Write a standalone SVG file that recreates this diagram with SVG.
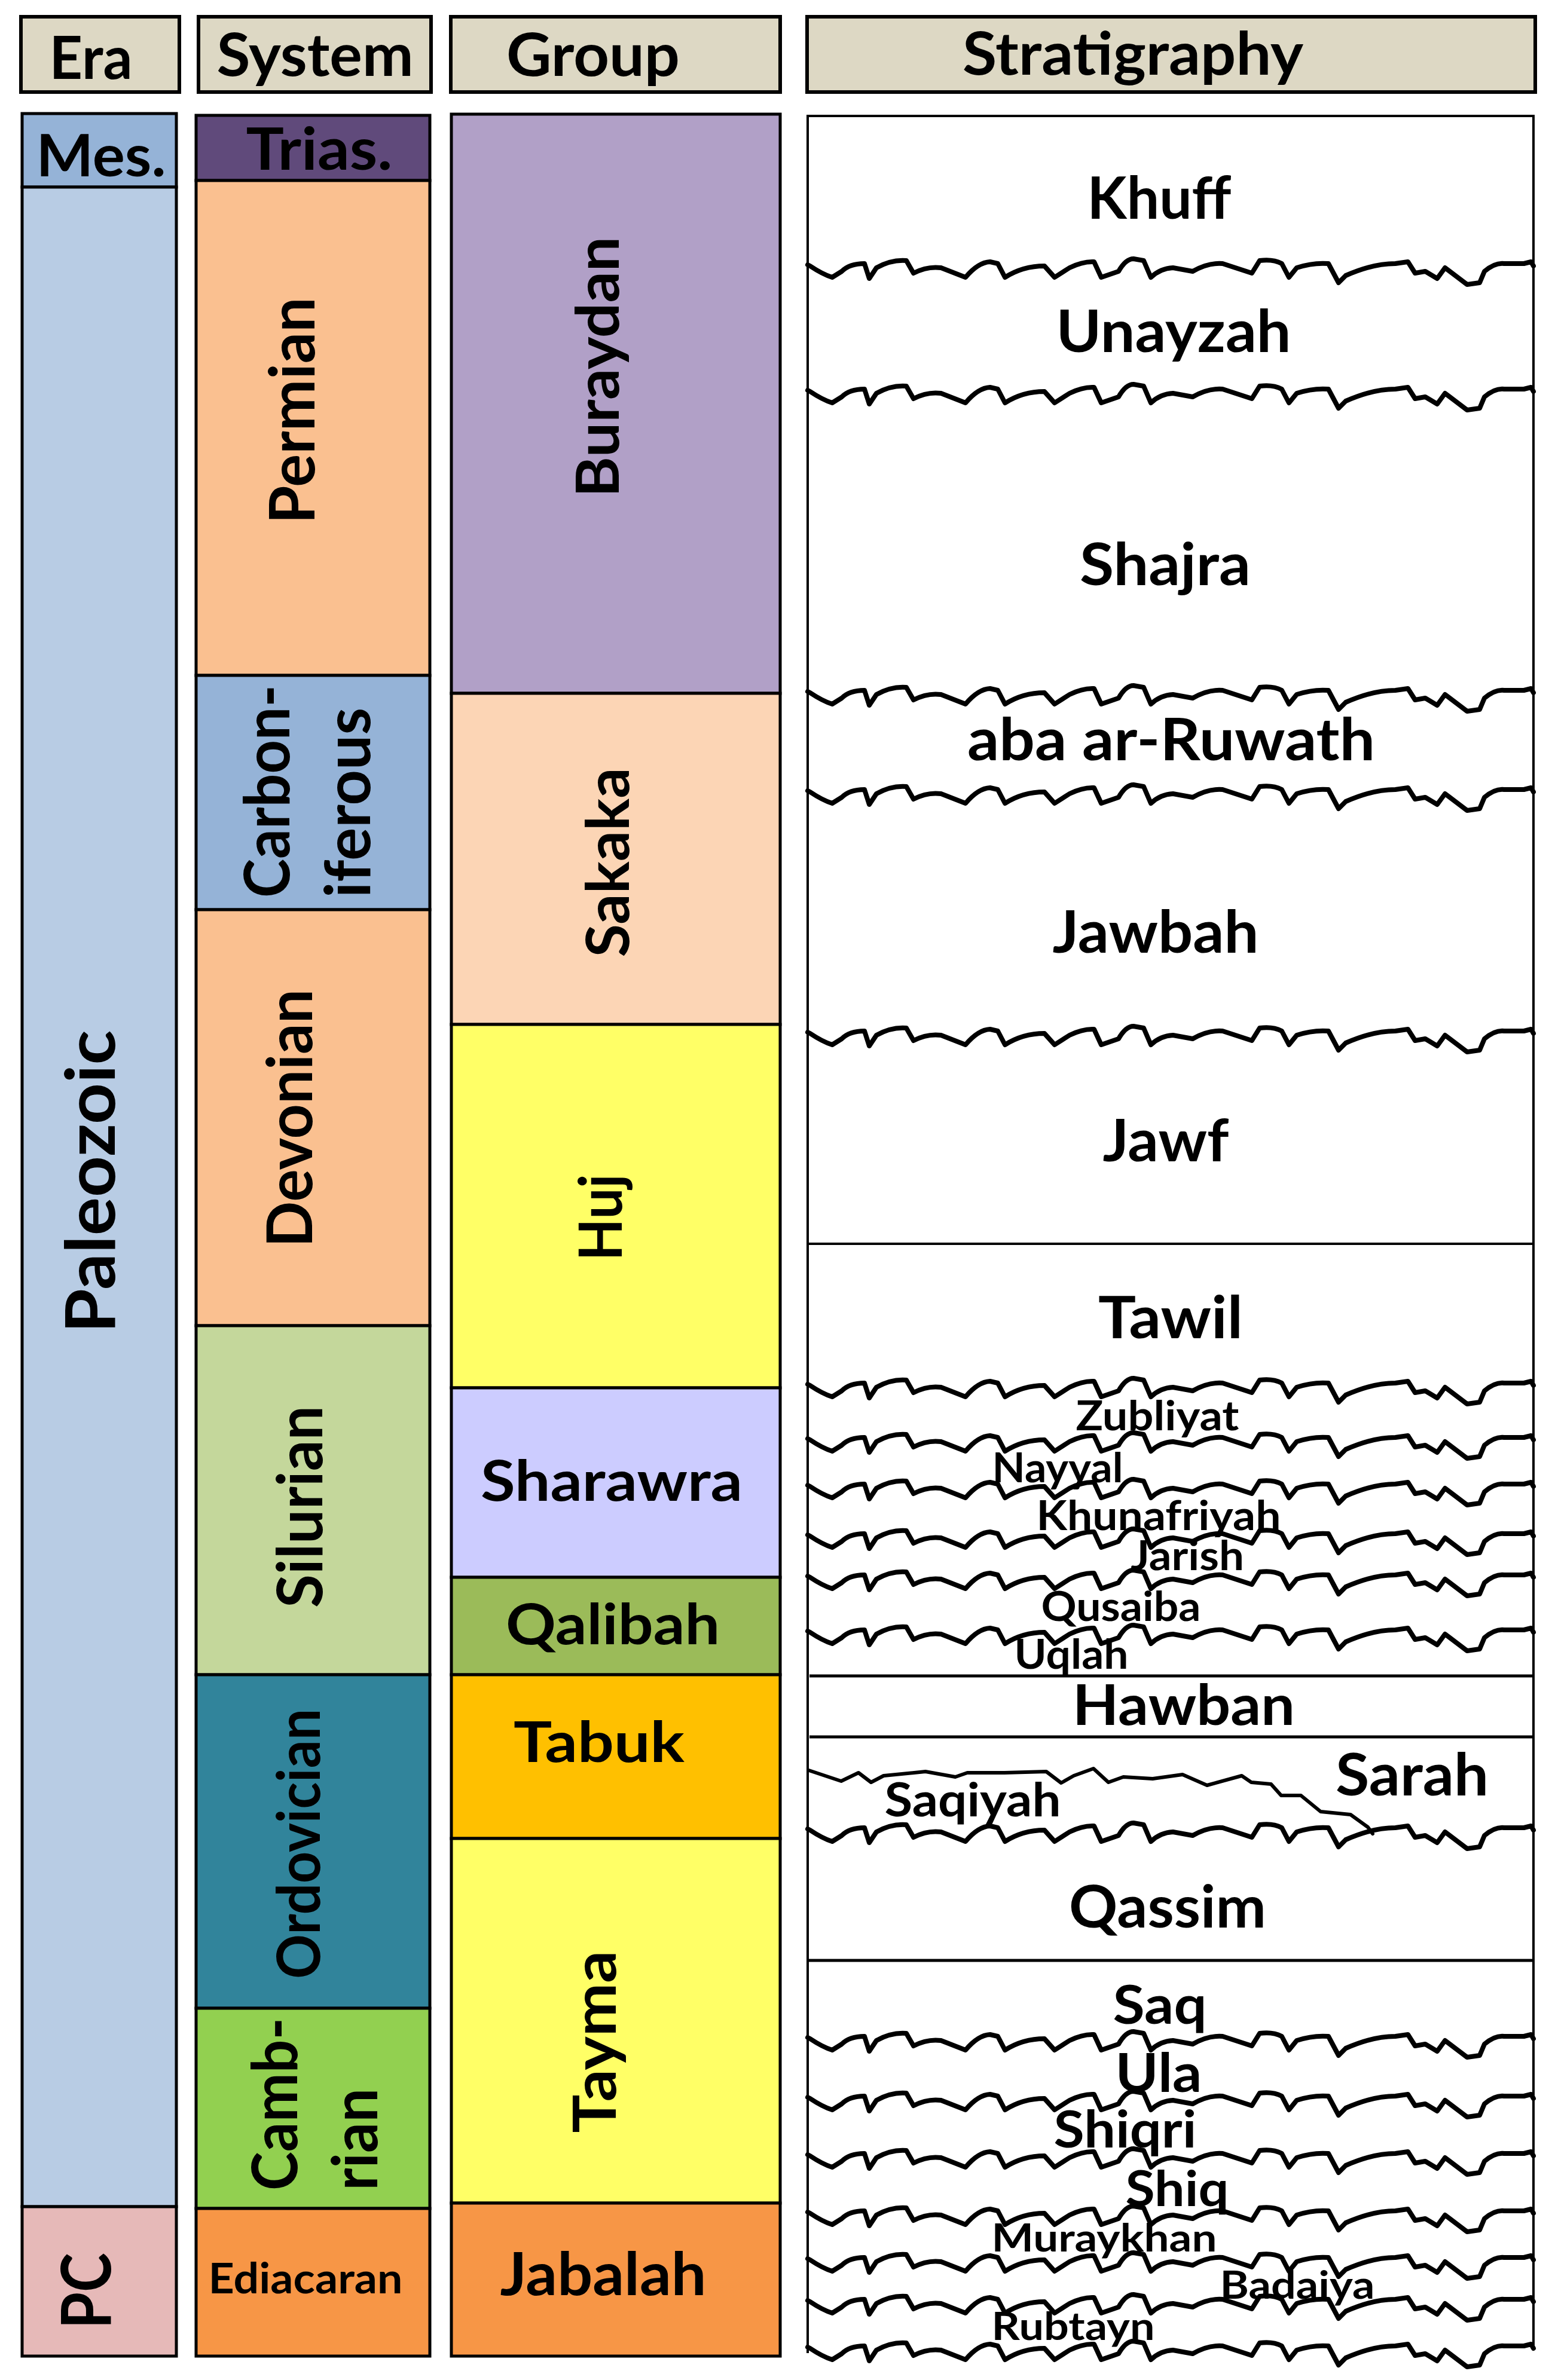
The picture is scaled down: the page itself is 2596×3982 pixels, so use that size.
<svg xmlns="http://www.w3.org/2000/svg" xmlns:xlink="http://www.w3.org/1999/xlink" width="2596" height="3982" viewBox="0 0 2596 3982">
<style>
.hdr{fill:#DDD8C4;stroke:#000;stroke-width:6}
.box{stroke:#000;stroke-width:5}
.t{font-family:Lato,'Open Sans','Liberation Sans',sans-serif;font-weight:700;fill:#000}
.c{text-anchor:middle}
.wave{fill:none;stroke:#000;stroke-width:8;stroke-linejoin:round;stroke-linecap:round}
.line{fill:none;stroke:#000;stroke-width:4}
</style>
<defs>
<path id="wave" class="wave" d="M0,-8 L4,-6 Q25,8 41,13 L57,3 Q70,-10 95,-10 L103,15 115,-3 Q140,-17 165,-15 L177,6 Q200,-6 223,-3 L264,13 Q285,-12 305,-13 L318,-10 330,13 Q360,-6 396,-6 L413,13 438,-3 Q460,-14 479,-13 L491,13 520,3 Q532,-18 545,-18 L562,-15 574,13 Q590,-2 611,-3 L644,3 Q670,-12 694,-10 L743,6 756,-15 Q778,-18 793,-10 L805,13 818,-3 Q845,-12 871,-10 L888,22 900,10 Q945,-10 983,-10 L1004,-13 1016,6 1033,3 1053,15 1066,-3 1074,3 1103,25 1124,22 1132,3 Q1150,-12 1165,-10 L1198,-10 1210,-13 1214,-6"/>
</defs>
<rect width="2596" height="3982" fill="#fff"/>

<g id="headers">
<g id="hdr-era"><rect class="hdr" x="35" y="28" width="265" height="126"/><text class="t c" x="152" y="132" font-size="100" textLength="139" lengthAdjust="spacingAndGlyphs">Era</text></g>
<g id="hdr-system"><rect class="hdr" x="332" y="28" width="389" height="126"/><text class="t c" x="527" y="127" font-size="100" textLength="329" lengthAdjust="spacingAndGlyphs">System</text></g>
<g id="hdr-group"><rect class="hdr" x="754" y="28" width="551" height="126"/><text class="t c" x="992" y="127" font-size="100" textLength="290" lengthAdjust="spacingAndGlyphs">Group</text></g>
<g id="hdr-strat"><rect class="hdr" x="1350" y="28" width="1218" height="126"/><text class="t c" x="1895" y="125" font-size="100" textLength="570" lengthAdjust="spacingAndGlyphs">Stratigraphy</text></g>
</g>

<g id="era">
<g id="era-mes"><rect class="box" x="37" y="190" width="258" height="123" fill="#95B3D7"/><text class="t c" x="169" y="295" font-size="97" textLength="217" lengthAdjust="spacingAndGlyphs">Mes.</text></g>
<g id="era-paleozoic"><rect class="box" x="37" y="313" width="258" height="3379" fill="#B8CCE4"/><text class="t c" transform="translate(192,1977) rotate(-90)" font-size="115" textLength="507" lengthAdjust="spacingAndGlyphs">Paleozoic</text></g>
<g id="era-pc"><rect class="box" x="37" y="3692" width="258" height="250" fill="#E6B9B8"/><text class="t c" transform="translate(185,3833) rotate(-90)" font-size="115" textLength="127" lengthAdjust="spacingAndGlyphs">PC</text></g>
</g>

<g id="system">
<g id="sys-trias"><rect class="box" x="328" y="193" width="391" height="109" fill="#604A7B"/><text class="t c" x="534" y="284" font-size="97" textLength="245" lengthAdjust="spacingAndGlyphs">Trias.</text></g>
<g id="sys-permian"><rect class="box" x="328" y="302" width="391" height="828" fill="#FAC090"/><text class="t c" transform="translate(526,687) rotate(-90)" font-size="105" textLength="379" lengthAdjust="spacingAndGlyphs">Permian</text></g>
<g id="sys-carboniferous"><rect class="box" x="328" y="1130" width="391" height="392" fill="#95B3D7"/><text class="t" transform="translate(484,1502) rotate(-90)" font-size="105" textLength="356" lengthAdjust="spacingAndGlyphs">Carbon-</text><text class="t" transform="translate(619,1502) rotate(-90)" font-size="105" textLength="318" lengthAdjust="spacingAndGlyphs">iferous</text></g>
<g id="sys-devonian"><rect class="box" x="328" y="1522" width="391" height="696" fill="#FAC090"/><text class="t c" transform="translate(522,1871) rotate(-90)" font-size="105" textLength="432" lengthAdjust="spacingAndGlyphs">Devonian</text></g>
<g id="sys-silurian"><rect class="box" x="328" y="2218" width="391" height="584" fill="#C4D79B"/><text class="t c" transform="translate(539,2521) rotate(-90)" font-size="105" textLength="338" lengthAdjust="spacingAndGlyphs">Silurian</text></g>
<g id="sys-ordovician"><rect class="box" x="328" y="2802" width="391" height="558" fill="#31849B"/><text class="t c" transform="translate(535,3085) rotate(-90)" font-size="100" textLength="452" lengthAdjust="spacingAndGlyphs">Ordovician</text></g>
<g id="sys-cambrian"><rect class="box" x="328" y="3360" width="391" height="335" fill="#92D050"/><text class="t" transform="translate(497,3665) rotate(-90)" font-size="105" textLength="289" lengthAdjust="spacingAndGlyphs">Camb-</text><text class="t" transform="translate(631,3665) rotate(-90)" font-size="105" textLength="171" lengthAdjust="spacingAndGlyphs">rian</text></g>
<g id="sys-ediacaran"><rect class="box" x="328" y="3695" width="391" height="247" fill="#F79646"/><text class="t c" x="511" y="3837" font-size="70" textLength="325" lengthAdjust="spacingAndGlyphs">Ediacaran</text></g>
</g>

<g id="group">
<g id="grp-buraydan"><rect class="box" x="755" y="191" width="550" height="969" fill="#B1A0C7"/><text class="t c" transform="translate(1035,614) rotate(-90)" font-size="100" textLength="436" lengthAdjust="spacingAndGlyphs">Buraydan</text></g>
<g id="grp-sakaka"><rect class="box" x="755" y="1160" width="550" height="554" fill="#FCD5B5"/><text class="t c" transform="translate(1052,1443) rotate(-90)" font-size="100" textLength="317" lengthAdjust="spacingAndGlyphs">Sakaka</text></g>
<g id="grp-huj"><rect class="box" x="755" y="1714" width="550" height="608" fill="#FFFF66"/><text class="t c" transform="translate(1040,2037) rotate(-90)" font-size="100" textLength="145" lengthAdjust="spacingAndGlyphs">Huj</text></g>
<g id="grp-sharawra"><rect class="box" x="755" y="2322" width="550" height="317" fill="#CCCCFF"/><text class="t c" x="1023" y="2511" font-size="93" textLength="438" lengthAdjust="spacingAndGlyphs">Sharawra</text></g>
<g id="grp-qalibah"><rect class="box" x="755" y="2639" width="550" height="163" fill="#9BBB59"/><text class="t c" x="1025" y="2751" font-size="93" textLength="358" lengthAdjust="spacingAndGlyphs">Qalibah</text></g>
<g id="grp-tabuk"><rect class="box" x="755" y="2802" width="550" height="274" fill="#FFC000"/><text class="t c" x="1002" y="2948" font-size="93" textLength="286" lengthAdjust="spacingAndGlyphs">Tabuk</text></g>
<g id="grp-tayma"><rect class="box" x="755" y="3076" width="550" height="610" fill="#FFFF66"/><text class="t c" transform="translate(1030,3416) rotate(-90)" font-size="100" textLength="305" lengthAdjust="spacingAndGlyphs">Tayma</text></g>
<g id="grp-jabalah"><rect class="box" x="755" y="3686" width="550" height="256" fill="#F79646"/><text class="t c" x="1009" y="3840" font-size="100" textLength="345" lengthAdjust="spacingAndGlyphs">Jabalah</text></g>
</g>

<g id="strat-frame">
<rect x="1351" y="194" width="1214" height="3741" fill="#fff"/>
<path class="line" d="M1351,3937 V194 H2565 V3932"/>
</g>

<g id="boundaries">
<use xlink:href="#wave" x="1351" y="451"/>
<use xlink:href="#wave" x="1351" y="661"/>
<use xlink:href="#wave" x="1351" y="1165"/>
<use xlink:href="#wave" x="1351" y="1331"/>
<use xlink:href="#wave" x="1351" y="1735"/>
<path class="line" d="M1351,2081 H2565"/>
<use xlink:href="#wave" x="1351" y="2324"/>
<use xlink:href="#wave" x="1351" y="2415"/>
<use xlink:href="#wave" x="1351" y="2493"/>
<use xlink:href="#wave" x="1351" y="2576"/>
<use xlink:href="#wave" x="1351" y="2645"/>
<use xlink:href="#wave" x="1351" y="2737"/>
<path class="line" style="stroke-width:5" d="M1354,2804 H2565 M1354,2906 H2565"/>
<path class="wave" style="stroke-width:6" d="M1353,2962 L1407,2980 1436,2966 1457,2982 1478,2971 1548,2964 1598,2973 1618,2966 1680,2966 1750,2964 1775,2983 1796,2971 1829,2959 1854,2982 1879,2973 1928,2976 1978,2969 2019,2987 2077,2971 2093,2982 2126,2985 2143,3004 2176,3004 2209,3031 2259,3036 2288,3057 2296,3068"/>
<use xlink:href="#wave" x="1351" y="3068"/>
<path class="line" style="stroke-width:5" d="M1351,3280 H2565"/>
<use xlink:href="#wave" x="1351" y="3417"/>
<use xlink:href="#wave" x="1351" y="3517"/>
<use xlink:href="#wave" x="1351" y="3613"/>
<use xlink:href="#wave" x="1351" y="3709"/>
<use xlink:href="#wave" x="1351" y="3787"/>
<use xlink:href="#wave" x="1351" y="3857"/>
<use xlink:href="#wave" x="1351" y="3935"/>
</g>

<g id="formations">
<g id="f-khuff"><text class="t c" x="1939" y="366" font-size="98" textLength="241" lengthAdjust="spacingAndGlyphs">Khuff</text></g>
<g id="f-unayzah"><text class="t c" x="1963" y="589" font-size="98" textLength="393" lengthAdjust="spacingAndGlyphs">Unayzah</text></g>
<g id="f-shajra"><text class="t c" x="1949" y="979" font-size="98" textLength="286" lengthAdjust="spacingAndGlyphs">Shajra</text></g>
<g id="f-aba"><text class="t c" x="1959" y="1272" font-size="98" textLength="682" lengthAdjust="spacingAndGlyphs">aba ar-Ruwath</text></g>
<g id="f-jawbah"><text class="t c" x="1933" y="1594" font-size="98" textLength="345" lengthAdjust="spacingAndGlyphs">Jawbah</text></g>
<g id="f-jawf"><text class="t c" x="1950" y="1943" font-size="98" textLength="211" lengthAdjust="spacingAndGlyphs">Jawf</text></g>
<g id="f-tawil"><text class="t c" x="1958" y="2239" font-size="98" textLength="242" lengthAdjust="spacingAndGlyphs">Tawil</text></g>
<g id="f-zubliyat"><text class="t c" x="1936" y="2393" font-size="68" textLength="273" lengthAdjust="spacingAndGlyphs">Zubliyat</text></g>
<g id="f-nayyal"><text class="t c" x="1769" y="2480" font-size="68" textLength="219" lengthAdjust="spacingAndGlyphs">Nayyal</text></g>
<g id="f-khunafriyah"><text class="t c" x="1938" y="2560" font-size="68" textLength="409" lengthAdjust="spacingAndGlyphs">Khunafriyah</text></g>
<g id="f-jarish"><text class="t c" x="1986" y="2627" font-size="68" textLength="190" lengthAdjust="spacingAndGlyphs">Jarish</text></g>
<g id="f-qusaiba"><text class="t c" x="1875" y="2712" font-size="68" textLength="267" lengthAdjust="spacingAndGlyphs">Qusaiba</text></g>
<g id="f-uqlah"><text class="t c" x="1792" y="2792" font-size="68" textLength="191" lengthAdjust="spacingAndGlyphs">Uqlah</text></g>
<g id="f-hawban"><text class="t c" x="1980" y="2886" font-size="93" textLength="372" lengthAdjust="spacingAndGlyphs">Hawban</text></g>
<g id="f-sarah"><text class="t c" x="2362" y="3004" font-size="98" textLength="256" lengthAdjust="spacingAndGlyphs">Sarah</text></g>
<g id="f-saqiyah"><text class="t c" x="1627" y="3039" font-size="78" textLength="295" lengthAdjust="spacingAndGlyphs">Saqiyah</text></g>
<g id="f-qassim"><text class="t c" x="1953" y="3225" font-size="98" textLength="330" lengthAdjust="spacingAndGlyphs">Qassim</text></g>
<g id="f-saq"><text class="t c" x="1940" y="3386" font-size="90" textLength="157" lengthAdjust="spacingAndGlyphs">Saq</text></g>
<g id="f-ula"><text class="t c" x="1938" y="3500" font-size="90" textLength="145" lengthAdjust="spacingAndGlyphs">Ula</text></g>
<g id="f-shiqri"><text class="t c" x="1882" y="3593" font-size="86" textLength="239" lengthAdjust="spacingAndGlyphs">Shiqri</text></g>
<g id="f-shiq"><text class="t c" x="1969" y="3691" font-size="82" textLength="173" lengthAdjust="spacingAndGlyphs">Shiq</text></g>
<g id="f-muraykhan"><text class="t c" x="1847" y="3767" font-size="65" textLength="377" lengthAdjust="spacingAndGlyphs">Muraykhan</text></g>
<g id="f-badaiya"><text class="t c" x="2170" y="3846" font-size="65" textLength="259" lengthAdjust="spacingAndGlyphs">Badaiya</text></g>
<g id="f-rubtayn"><text class="t c" x="1795" y="3915" font-size="65" textLength="273" lengthAdjust="spacingAndGlyphs">Rubtayn</text></g>
</g>
</svg>
